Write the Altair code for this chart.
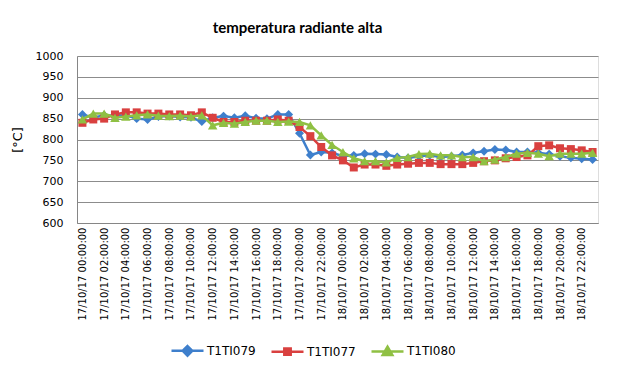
import altair as alt
import pandas as pd

times = [f"{d}/10/17 {h:02d}:00:00" for d in (17, 18) for h in range(24)]

names = ["T1TI079", "T1TI077", "T1TI080"]
colors = ["#3E7FCC", "#D9403F", "#8FC043"]

t1ti079 = [860, 852, 858, 857, 858, 850, 848, 855, 856, 854, 853, 843,
           852, 856, 852, 857, 851, 850, 860, 860, 815, 763, 770, 768,
           760, 762, 766, 765, 764, 758, 756, 760, 762, 758, 760, 763,
           768, 772, 776, 775, 770, 770, 768, 765, 760, 756, 754, 752]
t1ti077 = [840, 848, 850, 860, 865, 865, 862, 862, 860, 860, 858, 865,
           852, 842, 842, 845, 845, 845, 848, 845, 830, 808, 782, 762,
           750, 733, 740, 740, 737, 740, 742, 744, 744, 741, 741, 741,
           744, 748, 750, 755, 758, 762, 784, 786, 779, 777, 774, 770]
t1ti080 = [848, 862, 862, 852, 855, 858, 860, 857, 856, 857, 855, 858,
           834, 840, 838, 842, 845, 845, 842, 843, 842, 834, 810, 787,
           770, 755, 748, 748, 745, 756, 758, 765, 766, 762, 762, 758,
           758, 748, 752, 758, 766, 768, 766, 760, 766, 766, 766, 768]

series = [t1ti079, t1ti077, t1ti080]
rows = []
for n, vals in zip(names, series):
    for t, v in zip(times, vals):
        rows.append({"time": t, "series": n, "value": v})
df = pd.DataFrame(rows)

shapes = ["diamond", "square", "triangle-up"]
sizes = [80, 64, 90]
legend_paths = [
    "M-1,0L1,0M0,-0.3L0.3,0L0,0.3L-0.3,0Z",
    "M-1,0L1,0M-0.2,-0.2L0.2,-0.2L0.2,0.2L-0.2,0.2Z",
    "M-1,0L1,0M0,-0.3L0.3,0.22L-0.3,0.22Z",
]

x_enc = alt.X(
    "time:O",
    sort=times,
    scale=alt.Scale(type="point", padding=0.5, domain=times),
    axis=alt.Axis(
        values=times[::2], labelAngle=270, title=None, ticks=False,
        labelFont="DejaVu Sans", labelFontSize=10, labelColor="#000000",
        labelPadding=4, domainColor="#868686", grid=False,
    ),
)
y_enc = alt.Y(
    "value:Q",
    scale=alt.Scale(domain=[600, 1000], nice=False, zero=False),
    axis=alt.Axis(
        values=list(range(600, 1001, 50)), format="d", title="[°C]", grid=True,
        gridColor="#8C8C8C", domainColor="#868686", ticks=False,
        labelFont="DejaVu Sans", labelFontSize=11, labelColor="#000000",
        labelPadding=14, titleFont="DejaVu Sans", titleFontSize=13,
        titleFontWeight="normal", titleColor="#000000", titlePadding=11,
    ),
)

layers = []
for n, c, s, sz in zip(names, colors, shapes, sizes):
    base = alt.Chart(df).transform_filter(alt.datum.series == n)
    layers.append(base.mark_line(color=c, strokeWidth=2.5).encode(x=x_enc, y=y_enc))
    layers.append(
        base.mark_point(filled=True, shape=s, size=sz, color=c, opacity=1).encode(x=x_enc, y=y_enc)
    )

leg = alt.Legend(
    title=None, orient="none", direction="horizontal", legendX=93, legendY=277,
    symbolSize=1024, symbolStrokeWidth=2.5, labelFont="DejaVu Sans",
    labelFontSize=12, labelColor="#000000", columnPadding=10, labelOffset=2,
)
legend_layer = alt.Chart(df).transform_filter("false").mark_point(filled=True, opacity=1).encode(
    color=alt.Color("series:N", scale=alt.Scale(domain=names, range=colors), legend=leg),
    stroke=alt.Stroke("series:N", scale=alt.Scale(domain=names, range=colors), legend=leg),
    shape=alt.Shape("series:N", scale=alt.Scale(domain=names, range=legend_paths), legend=leg),
)
layers.append(legend_layer)

chart = alt.layer(*layers).properties(
    width=521, height=167,
    title=alt.TitleParams("temperatura radiante alta", font="Lato", fontSize=15,
                          fontWeight="bold", color="#000000", dx=-40, offset=14),
    autosize=alt.AutoSizeParams(type="none"),
    padding={"left": 69, "top": 48, "right": 17, "bottom": 140},
).configure_view(stroke=None).configure(background="white")

chart.save("out.html", embed_options={"renderer": "svg", "actions": False})
